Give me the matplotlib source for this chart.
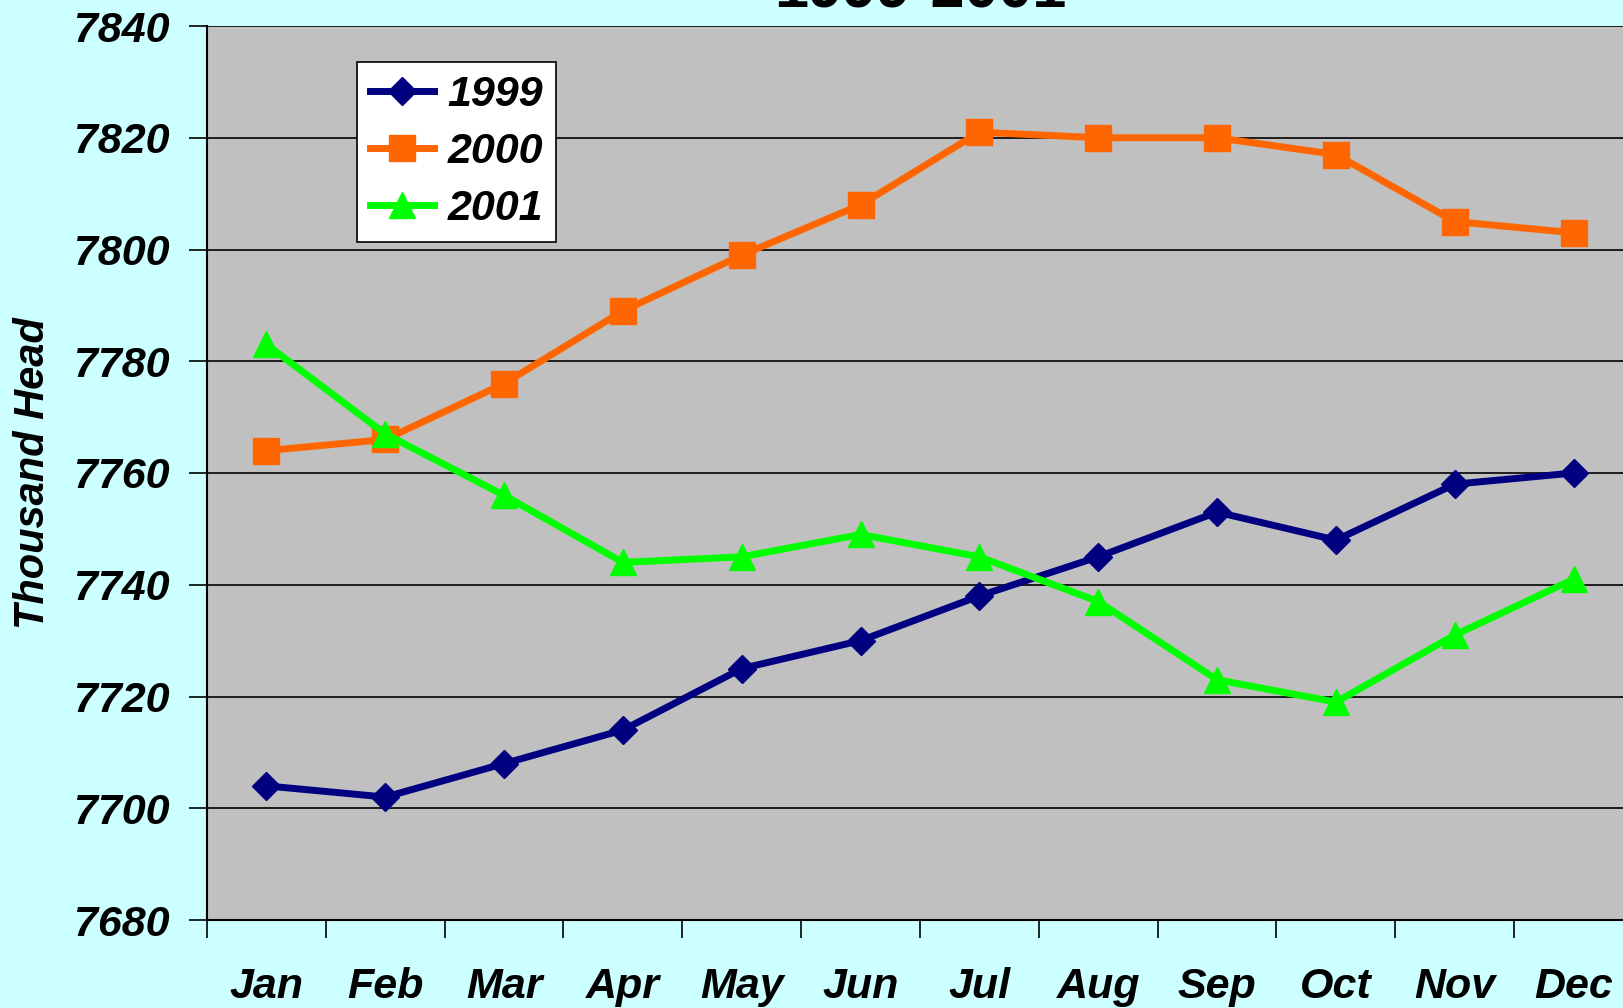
import numpy as np
import matplotlib
matplotlib.use("Agg")
import matplotlib.pyplot as plt

months = ["Jan", "Feb", "Mar", "Apr", "May", "Jun", "Jul", "Aug", "Sep", "Oct", "Nov", "Dec"]
y1999 = [7704, 7702, 7708, 7714, 7725, 7730, 7738, 7745, 7753, 7748, 7758, 7760]
y2000 = [7764, 7766, 7776, 7789, 7799, 7808, 7821, 7820, 7820, 7817, 7805, 7803]
y2001 = [7783, 7767, 7756, 7744, 7745, 7749, 7745, 7737, 7723, 7719, 7731, 7741]
yticks = [7680, 7700, 7720, 7740, 7760, 7780, 7800, 7820, 7840]

plt.rcParams['font.family'] = ['Liberation Sans', 'DejaVu Sans']
fs = 31

fig = plt.figure(figsize=(16.24, 10.08), dpi=100, facecolor='#CCFFFF')
ax = fig.add_axes([207/1624, 88/1008, 1426/1624, 894/1008])
ax.set_facecolor('#C0C0C0')

x = np.arange(len(months))
ax.plot(x, y1999, color='#000080', lw=5, marker='D', ms=14, label='1999', zorder=3)
ax.plot(x, y2000, color='#FF6600', lw=5, marker='s', ms=19, label='2000', zorder=3)
ax.plot(x, y2001, color='#00FF00', lw=5, marker='^', ms=19, label='2001', zorder=3)

ax.set_xlim(-0.5, 11.5)
ax.set_ylim(7680, 7840)
ax.set_yticks(yticks)
ax.set_yticklabels([str(v) for v in yticks], fontsize=fs, fontweight='bold', fontstyle='italic')
ax.yaxis.grid(True, color='black', lw=1.2)
ax.set_axisbelow(True)

# category boundary ticks, labels centred between them
ax.set_xticks(np.arange(-0.5, 12, 1))
ax.set_xticklabels([])
ax.set_xticks(x, minor=True)
ax.set_xticklabels(months, minor=True, fontsize=fs, fontweight='bold', fontstyle='italic')
ax.tick_params(axis='x', which='major', length=13, width=1.2, direction='out')
ax.tick_params(axis='x', which='minor', length=0, pad=34)
ax.tick_params(axis='y', length=13, width=1.2, direction='out', pad=14)

for s in ['top', 'right']:
    ax.spines[s].set_visible(False)
ax.spines['left'].set_linewidth(1.5)
ax.spines['bottom'].set_linewidth(1.5)

fig.text(33/1624, 1 - 473/1008, "Thousand Head", fontsize=30, fontweight='bold',
         fontstyle='italic', rotation=90, ha='center', va='center')

fig.text(920/1624, 1 - 8/1008, "1999-2001", fontsize=44, fontweight='bold',
         ha='center', va='baseline')

leg = ax.legend(loc='upper left', bbox_to_anchor=(357/1624, 1 - 62/1008),
                bbox_transform=fig.transFigure, borderaxespad=0, frameon=True,
                fancybox=False, edgecolor='black', facecolor='white', framealpha=1,
                handlelength=1.5, handletextpad=0.3, labelspacing=0.4,
                borderpad=0.3, prop={'weight': 'bold', 'style': 'italic', 'size': fs})
leg.get_frame().set_linewidth(1.2)

plt.savefig("out.png", dpi=100, facecolor=fig.get_facecolor())
